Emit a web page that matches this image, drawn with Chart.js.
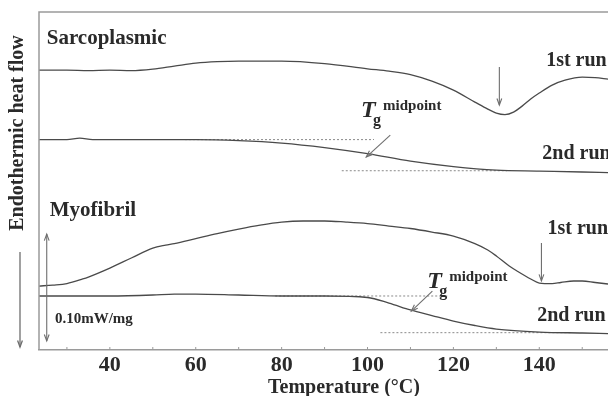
<!DOCTYPE html>
<html>
<head>
<meta charset="utf-8">
<script src="https://cdn.jsdelivr.net/npm/chart.js@4/dist/chart.umd.min.js"></script>
<style>
  body { margin: 0; background: #fff; }
  canvas { display: block; }
</style>
</head>
<body>
<canvas id="dsc" width="608" height="396"></canvas>
<script>
// temperatures in degC, heat flow offsets in mW/mg (curves stacked, endotherm down)
const sarcoRun1T = [23.5, 30, 35, 40, 45, 50, 55, 60, 65, 70, 80, 90, 100, 105, 110, 115, 120, 125, 128, 130, 132, 134, 136, 138, 140, 143, 146, 150, 153, 156];
const sarcoRun1 = [0.2617, 0.2617, 0.2612, 0.2617, 0.2612, 0.2626, 0.2654, 0.2682, 0.2696, 0.2701, 0.2701, 0.2678, 0.2629, 0.2607, 0.2575, 0.2514, 0.2430, 0.2318, 0.2252, 0.2215, 0.2201, 0.2224, 0.2280, 0.2346, 0.2402, 0.2477, 0.2523, 0.2551, 0.2547, 0.2533];

const sarcoRun2T = [23.5, 30, 33, 36, 40, 50, 60, 70, 80, 90, 100, 110, 120, 130, 140, 150, 156];
const sarcoRun2 = [0.1967, 0.1967, 0.1981, 0.1967, 0.1967, 0.1967, 0.1967, 0.1958, 0.1935, 0.1893, 0.1836, 0.1766, 0.1715, 0.1682, 0.1673, 0.1664, 0.1659];

const myoRun1T = [23.5, 26.7, 30, 33.7, 35, 40, 45, 50, 53, 55, 60, 65, 70, 75, 80, 85, 90, 95, 100, 105, 110, 115, 120, 125, 128, 130, 133, 135, 138, 140, 143, 145, 148, 150, 153, 156];
const myoRun1 = [0.0598, 0.0607, 0.0621, 0.0664, 0.0682, 0.0766, 0.0860, 0.0953, 0.0981, 0.0995, 0.1042, 0.1089, 0.1131, 0.1168, 0.1196, 0.1206, 0.1206, 0.1196, 0.1182, 0.1159, 0.1136, 0.1103, 0.1065, 0.0995, 0.0935, 0.0879, 0.0785, 0.0734, 0.0664, 0.0626, 0.0621, 0.0631, 0.0645, 0.0645, 0.0631, 0.0617];

const myoRun2T = [23.5, 30, 40, 50, 55, 60, 70, 80, 90, 100, 105, 110, 115, 120, 125, 130, 140, 150, 156];
const myoRun2 = [0.0505, 0.0505, 0.0505, 0.0514, 0.0523, 0.0523, 0.0514, 0.0505, 0.0505, 0.0491, 0.0439, 0.0374, 0.0322, 0.0271, 0.0229, 0.0196, 0.0168, 0.0159, 0.0154];

// extrapolated baselines [T start, T end, level]
const sarcoBaseHigh = [57.5, 101.5, 0.1967];
const sarcoBaseLow = [94, 132.5, 0.1676];
const myoBaseHigh = [78.5, 118.6, 0.0505];
const myoBaseLow = [103, 147.5, 0.0162];

// arrows [T1, y1, T2, y2]
const sarcoPeakArrow = [130.7, 0.2645, 130.7, 0.2290];
const sarcoTgArrow = [105.3, 0.2009, 99.7, 0.1804];
const myoPeakArrow = [140.5, 0.1000, 140.5, 0.0645];
const myoTgArrow = [115.1, 0.0551, 110.2, 0.0364];
const scaleBar = [25.3, 0.1084, 25.3, 0.0084];

// text labels [text, T, y, font size]
const curveLabels = [
  ['Sarcoplasmic', 25.3, 0.2907, 21],
  ['Myofibril', 26.0, 0.1299, 21],
  ['1st run', 141.6, 0.2706, 20],
  ['2nd run', 140.7, 0.1836, 20],
  ['1st run', 141.9, 0.1136, 20],
  ['2nd run', 139.5, 0.0318, 20]
];
const scaleLabel = ['0.10mW/mg', 27.2, 0.0290];
const tgLabels = [[98.5, 0.2234], [113.9, 0.0636]];
const xTitle = 'Temperature (°C)';
const yTitle = 'Endothermic heat flow';

const xMin = 23.5, xMax = 156;
const yMin = 0, yMax = 0.316;

const curveColor = '#4a4a4a';
const textColor = '#2a2a2a';
const serif = '"Liberation Serif", "DejaVu Serif", serif';

function pts(ts, vs) {
  return ts.map((t, i) => ({ x: t, y: vs[i] }));
}

function curve(ts, vs) {
  return {
    data: pts(ts, vs),
    borderColor: curveColor,
    borderWidth: 1.3,
    pointRadius: 0,
    cubicInterpolationMode: 'monotone'
  };
}

function baseline(b) {
  return {
    data: [{ x: b[0], y: b[2] }, { x: b[1], y: b[2] }],
    borderColor: '#8a8a8a',
    borderWidth: 1,
    borderDash: [2, 2],
    pointRadius: 0
  };
}

function arrowHead(ctx, x1, y1, x2, y2, size) {
  const a = Math.atan2(y2 - y1, x2 - x1);
  ctx.beginPath();
  ctx.moveTo(x2 - size * Math.cos(a - 0.35), y2 - size * Math.sin(a - 0.35));
  ctx.lineTo(x2, y2);
  ctx.lineTo(x2 - size * Math.cos(a + 0.35), y2 - size * Math.sin(a + 0.35));
  ctx.stroke();
}

function drawArrow(ctx, x1, y1, x2, y2, both) {
  ctx.beginPath();
  ctx.moveTo(x1, y1);
  ctx.lineTo(x2, y2);
  ctx.stroke();
  arrowHead(ctx, x1, y1, x2, y2, 7);
  if (both) arrowHead(ctx, x2, y2, x1, y1, 7);
}

const decorations = {
  id: 'decorations',
  afterDatasetsDraw(chart) {
    const ctx = chart.ctx;
    const xs = chart.scales.x, ys = chart.scales.y;
    const area = chart.chartArea;
    ctx.save();

    // frame: top and left
    ctx.strokeStyle = '#9a9a9a';
    ctx.lineWidth = 1.5;
    ctx.beginPath();
    ctx.moveTo(area.left, area.bottom);
    ctx.lineTo(area.left, area.top);
    ctx.lineTo(area.right, area.top);
    ctx.stroke();

    // small inward ticks every 10 degC
    ctx.lineWidth = 1;
    for (let t = 30; t <= 150; t += 10) {
      const px = xs.getPixelForValue(t);
      ctx.beginPath();
      ctx.moveTo(px, area.bottom);
      ctx.lineTo(px, area.bottom - 3);
      ctx.stroke();
    }

    // arrows
    ctx.strokeStyle = '#6e6e6e';
    ctx.lineWidth = 1.1;
    [sarcoPeakArrow, sarcoTgArrow, myoPeakArrow, myoTgArrow].forEach(a => {
      drawArrow(ctx, xs.getPixelForValue(a[0]), ys.getPixelForValue(a[1]),
        xs.getPixelForValue(a[2]), ys.getPixelForValue(a[3]), false);
    });
    drawArrow(ctx, xs.getPixelForValue(scaleBar[0]), ys.getPixelForValue(scaleBar[1]),
      xs.getPixelForValue(scaleBar[2]), ys.getPixelForValue(scaleBar[3]), true);

    // labels
    ctx.fillStyle = textColor;
    ctx.textBaseline = 'middle';
    ctx.textAlign = 'left';
    curveLabels.forEach(l => {
      ctx.font = 'bold ' + l[3] + 'px ' + serif;
      ctx.fillText(l[0], xs.getPixelForValue(l[1]), ys.getPixelForValue(l[2]));
    });
    ctx.font = 'bold 15px ' + serif;
    ctx.fillText(scaleLabel[0], xs.getPixelForValue(scaleLabel[1]), ys.getPixelForValue(scaleLabel[2]));

    tgLabels.forEach(l => {
      const px = xs.getPixelForValue(l[0]), py = ys.getPixelForValue(l[1]);
      ctx.font = 'italic bold 24px ' + serif;
      ctx.fillText('T', px, py);
      ctx.font = 'bold 16px ' + serif;
      ctx.fillText('g', px + 12, py + 10);
      ctx.font = 'bold 15px ' + serif;
      ctx.fillText('midpoint', px + 22, py - 5);
    });

    // x title, sitting right of centre like the original
    ctx.textAlign = 'center';
    ctx.font = 'bold 20px ' + serif;
    ctx.fillText(xTitle, 344, 388);

    // y title with downward arrow
    ctx.save();
    ctx.translate(18, 133);
    ctx.rotate(-Math.PI / 2);
    ctx.font = 'bold 20px ' + serif;
    ctx.fillText(yTitle, 0, 0);
    ctx.restore();
    ctx.strokeStyle = '#6e6e6e';
    ctx.lineWidth = 1.3;
    drawArrow(ctx, 20, 252, 20, 347, false);

    ctx.restore();
  }
};

new Chart(document.getElementById('dsc'), {
  type: 'line',
  data: {
    datasets: [
      curve(sarcoRun1T, sarcoRun1),
      curve(sarcoRun2T, sarcoRun2),
      baseline(sarcoBaseHigh),
      baseline(sarcoBaseLow),
      curve(myoRun1T, myoRun1),
      curve(myoRun2T, myoRun2),
      baseline(myoBaseHigh),
      baseline(myoBaseLow)
    ]
  },
  options: {
    responsive: false,
    animation: false,
    layout: { padding: { left: 39, top: 12, right: 0, bottom: 0 } },
    plugins: { legend: { display: false }, tooltip: { enabled: false } },
    scales: {
      x: {
        type: 'linear',
        min: xMin,
        max: xMax,
        grid: { display: false, drawTicks: false },
        border: { color: '#9a9a9a', width: 1.5 },
        ticks: {
          stepSize: 10,
          autoSkip: false,
          maxRotation: 0,
          padding: 2,
          color: textColor,
          font: { family: serif, size: 22, weight: 'bold' },
          callback: v => (v % 20 === 0 ? v : '')
        },
        afterFit: s => {
          s.height = 46;
          s.paddingLeft = 0;
          s.paddingRight = 0;
        }
      },
      y: {
        display: false,
        min: yMin,
        max: yMax
      }
    }
  },
  plugins: [decorations]
});
</script>
</body>
</html>
